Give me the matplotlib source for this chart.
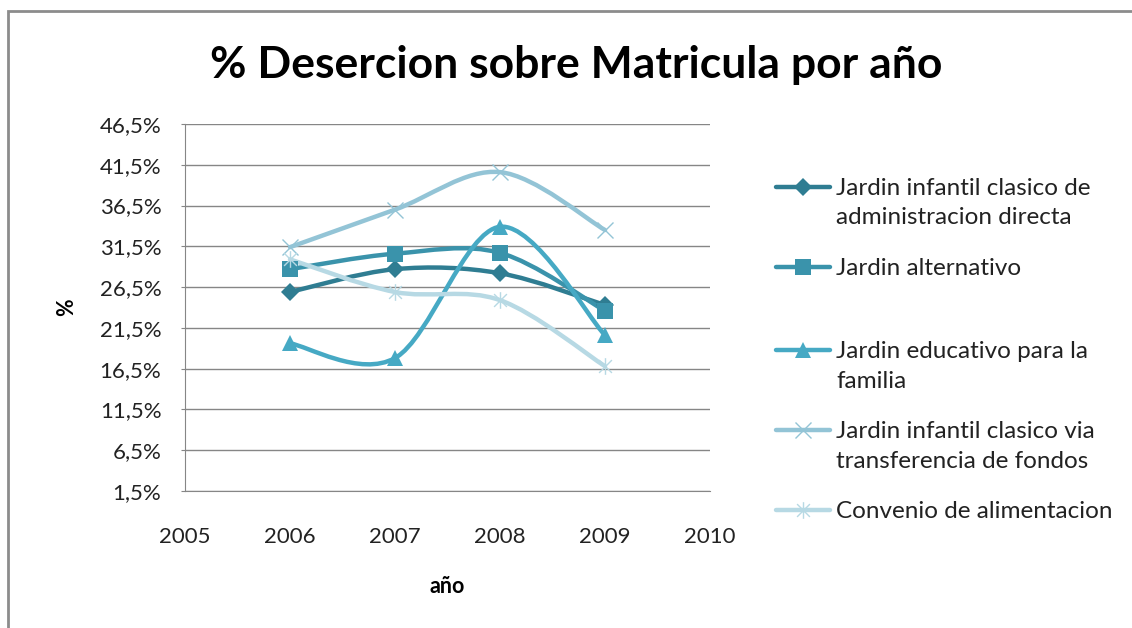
import matplotlib
matplotlib.use('Agg')
import matplotlib.pyplot as plt
from matplotlib.path import Path
from matplotlib.patches import PathPatch, Rectangle
from matplotlib.lines import Line2D

plt.rcParams['font.family'] = ['Lato', 'DejaVu Sans']

years = [2006, 2007, 2008, 2009]
series_names = [
    "Jardin infantil clasico de\nadministracion directa",
    "Jardin alternativo",
    "Jardin educativo para la\nfamilia",
    "Jardin infantil clasico via\ntransferencia de fondos",
    "Convenio de alimentacion",
]
directa = [25.9, 28.7, 28.2, 24.3]
alternativo = [28.7, 30.6, 30.7, 23.6]
educativo = [19.6, 17.8, 33.9, 20.6]
transferencia = [31.4, 36.0, 40.6, 33.5]
alimentacion = [29.9, 25.9, 24.9, 16.8]
yticks = [1.5, 6.5, 11.5, 16.5, 21.5, 26.5, 31.5, 36.5, 41.5, 46.5]
xticks = [2005, 2006, 2007, 2008, 2009, 2010]

colors = ['#2f7d92', '#3a93ab', '#46a9c4', '#93c4d6', '#b7d9e4']

# asterisk marker (x plus vertical bar), like Excel's star
star = Path([(-1, -1), (1, 1), (-1, 1), (1, -1), (0, -1.3), (0, 1.3)],
            [Path.MOVETO, Path.LINETO, Path.MOVETO, Path.LINETO, Path.MOVETO, Path.LINETO])
markers = [('D', 9), ('s', 11), ('^', 11), ('x', 12), (star, 12)]


def smooth_path(xs, ys):
    # Excel-style smoothed line: cubic bezier through the points
    pts = list(zip(xs, ys))
    verts = [pts[0]]
    codes = [Path.MOVETO]
    n = len(pts)
    for i in range(n - 1):
        p0 = pts[i - 1] if i > 0 else pts[i]
        p1 = pts[i]
        p2 = pts[i + 1]
        p3 = pts[i + 2] if i + 2 < n else pts[i + 1]
        c1 = (p1[0] + (p2[0] - p0[0]) / 6, p1[1] + (p2[1] - p0[1]) / 6)
        c2 = (p2[0] - (p3[0] - p1[0]) / 6, p2[1] - (p3[1] - p1[1]) / 6)
        verts += [c1, c2, p2]
        codes += [Path.CURVE4] * 3
    return Path(verts, codes)


fig = plt.figure(figsize=(11.32, 6.28), dpi=100)
ax = fig.add_axes([185 / 1132, 1 - 491 / 628, 525 / 1132, 367 / 628])

data = [directa, alternativo, educativo, transferencia, alimentacion]
for vals, c, (m, ms) in zip(data, colors, markers):
    ax.add_patch(PathPatch(smooth_path(years, vals), fill=False, edgecolor=c,
                           lw=3.2, capstyle='round', joinstyle='round', zorder=3))
    thin = m in ('x',) or isinstance(m, Path)
    ax.plot(years, vals, linestyle='none', marker=m, markersize=ms, color=c,
            markeredgewidth=1 if thin else 0, zorder=4)

ax.set_xlim(2005, 2010)
ax.set_ylim(1.5, 46.5)
ax.set_xticks(xticks)
ax.set_yticks(yticks)
ax.set_yticklabels([f"{v:.1f}%".replace('.', ',') for v in yticks])
ax.tick_params(axis='both', labelsize=16, colors='#222222')
ax.tick_params(axis='y', length=3, color='#868686', pad=14)
ax.tick_params(axis='x', length=0, pad=26)
ax.grid(axis='y', color='#868686', lw=1)
ax.set_axisbelow(True)
for s in ['top', 'right']:
    ax.spines[s].set_visible(False)
ax.spines['left'].set_color('#868686')
ax.spines['bottom'].set_color('#868686')

ax.set_xlabel("año", fontsize=15.5, fontweight='bold', labelpad=21)
ax.set_ylabel("%", fontsize=15.5, fontweight='bold', labelpad=16)

fig.text(576 / 1132, 1 - 65 / 628, "% Desercion sobre Matricula por año",
         ha='center', va='center', fontsize=32, fontweight='bold')

# legend drawn by hand to keep Excel's layout
leg_y = [187, 267, 350, 430, 510]
for name, c, (m, ms), y in zip(series_names, colors, markers, leg_y):
    fy = 1 - y / 628
    thin = m in ('x',) or isinstance(m, Path)
    fig.add_artist(Line2D([776 / 1132, 830 / 1132], [fy, fy], color=c, lw=3.2,
                          solid_capstyle='round', transform=fig.transFigure))
    fig.add_artist(Line2D([803 / 1132], [fy], marker=m, markersize=ms, color=c,
                          markeredgewidth=1 if thin else 0, transform=fig.transFigure))
    fig.text(836 / 1132, fy + 9 / 628, name, ha='left', va='top', fontsize=17.5,
             color='#222222', linespacing=1.5)

# chart area border
fig.add_artist(Rectangle((8 / 1132, -0.1), 1.2, 1.1 - 11 / 628, fill=False,
                         edgecolor='#8c8c8c', lw=2, transform=fig.transFigure))

fig.savefig('out.png', dpi=100, facecolor='white')
